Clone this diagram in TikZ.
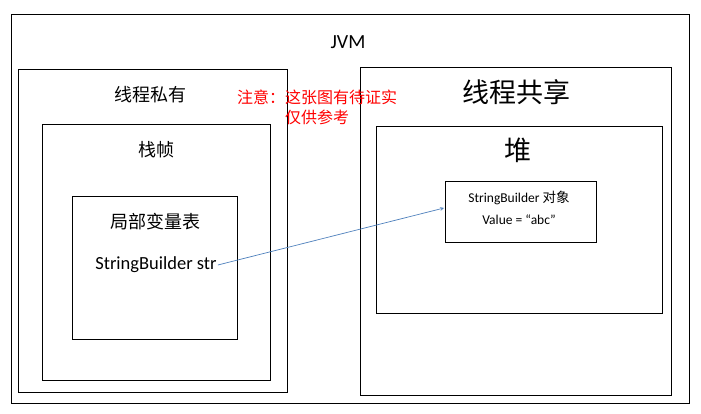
\documentclass[tikz,border=0pt]{standalone}
\usepackage{fontspec}
\setmainfont{Carlito}
\newfontfamily\cjk{Noto Sans CJK SC}
\begin{document}
\begin{tikzpicture}[x=1pt,y=-1pt,
  box/.style={draw=black,line width=0.8pt},
  lbl/.style={font=\cjk\fontsize{18}{20}\selectfont},
  arr/.style={draw={rgb,255:red,79;green,129;blue,189},line width=0.7pt,-stealth}]
\useasboundingbox[fill=white] (0,0) rectangle (701,414);
\draw[box] (11,14) rectangle (689,403);
\draw[box] (18,69) rectangle (287,392);
\draw[box] (42,124) rectangle (270,380);
\draw[box] (72,196) rectangle (237,339);
\draw[box] (360,67) rectangle (671,395);
\draw[box] (376,126) rectangle (662,313);
\draw[box] (445,181) rectangle (596,242);
\node[font=\fontsize{20}{22}\selectfont] (jvm) at (348,42) {JVM};
\node[lbl] (priv) at (150,95) {线程私有};
\node[font=\cjk\fontsize{16}{20}\selectfont,text=red,align=center,inner sep=0pt] (note) at (317,107) {注意：这张图有待证实\\仅供参考};
\node[font=\cjk\fontsize{27}{30}\selectfont] (shared) at (516,92) {线程共享};
\node[lbl] (frame) at (156,150) {栈帧};
\node[font=\cjk\fontsize{27}{30}\selectfont] (heap) at (518,150) {堆};
\node[lbl] (lvt) at (155,222) {局部变量表};
\node[font=\fontsize{18.5}{20}\selectfont,inner sep=1pt] (str) at (156,265) {StringBuilder str};
\node[font=\fontsize{13.5}{15}\selectfont] (obj1) at (519,198) {StringBuilder \cjk 对象};
\node[font=\fontsize{13.5}{15}\selectfont] (obj2) at (519,220) {Value = “abc”};
\coordinate (objl) at (444,208);
\draw[arr] (str.east) -- (objl);
\end{tikzpicture}
\end{document}
